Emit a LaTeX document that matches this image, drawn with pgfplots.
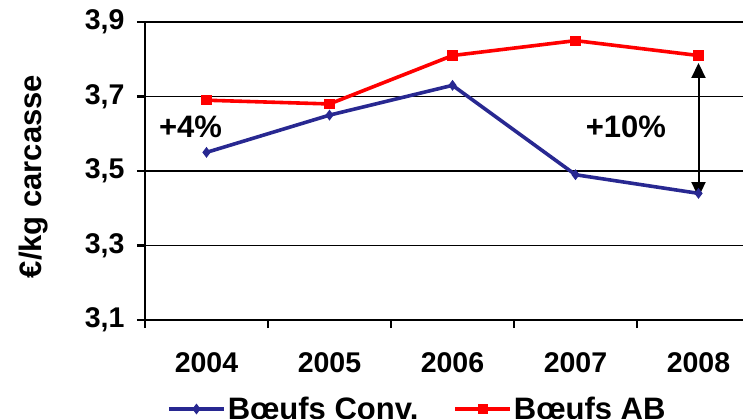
\documentclass[border=0pt]{standalone}
\usepackage{fontspec}
\setmainfont{Liberation Sans}
\usepackage{pgfplots}
\pgfplotsset{compat=1.18}
\usetikzlibrary{arrows.meta}
\definecolor{conv}{RGB}{40,40,145}
\definecolor{ab}{RGB}{255,0,0}
\begin{document}
\begin{tikzpicture}
\useasboundingbox (-145bp,-99bp) rectangle (598bp,320bp);
\clip (-145bp,-99bp) rectangle (598bp,320bp);
\begin{axis}[
  at={(0,0)}, anchor=south west,
  scale only axis, width=598bp, height=298bp,
  xmin=-0.5, xmax=4.3618, ymin=3.1, ymax=3.9,
  axis x line*=bottom, axis y line*=left,
  axis line style={line width=2.4bp, black},
  tick align=outside, major tick length=8bp,
  tick style={black, line width=2.2bp},
  ytick={3.1,3.3,3.5,3.7,3.9},
  yticklabels={{3,1},{3,3},{3,5},{3,7},{3,9}},
  ymajorgrids, grid style={black, line width=1.8bp},
  xtick={-0.5,0.5,1.5,2.5,3.5},
  xticklabels={2004,2005,2006,2007,2008},
  ticklabel style={font=\fontsize{28.5bp}{34bp}\selectfont\bfseries},
  xticklabel style={xshift=61.5bp, yshift=-21bp},
  yticklabel style={xshift=-9bp},
  ylabel={€/kg carcasse},
  ylabel style={at={(axis description cs:-0.1856,0.4815)}, anchor=center, font=\fontsize{31bp}{36bp}\selectfont\bfseries},
  legend columns=2,
  legend style={at={(axis description cs:0,0)}, anchor=west, xshift=22bp, yshift=-89bp,
    draw=none, fill=none, inner sep=0pt,
    font=\fontsize{31bp}{36bp}\selectfont\bfseries,
    nodes={inner sep=2bp},
    /tikz/every even column/.append style={column sep=33bp}},
  legend image code/.code={\draw[#1,mark repeat=2,mark phase=2] plot coordinates {(0bp,0bp) (27.5bp,0bp) (55bp,0bp)};},
]
\addplot[conv, line width=3.6bp, mark=diamond*, mark size=2.5bp] coordinates {(0,3.55) (1,3.65) (2,3.73) (3,3.49) (4,3.44)};
\addlegendentry{Bœufs Conv.}
\addplot[ab, line width=3.6bp, mark=square*, mark size=3.3bp] coordinates {(0,3.69) (1,3.68) (2,3.81) (3,3.85) (4,3.81)};
\addlegendentry{Bœufs AB}
\node[font=\fontsize{31bp}{36bp}\selectfont\bfseries] at (axis cs:-0.13,3.618) {+4\%};
\node[font=\fontsize{31bp}{36bp}\selectfont\bfseries] at (axis cs:3.41,3.618) {+10\%};
\draw[{Triangle[width=14bp,length=15bp]}-{Triangle[width=14bp,length=15bp]}, line width=2bp, black] (axis cs:4,3.79) -- (axis cs:4,3.43);
\end{axis}
\end{tikzpicture}
\end{document}
